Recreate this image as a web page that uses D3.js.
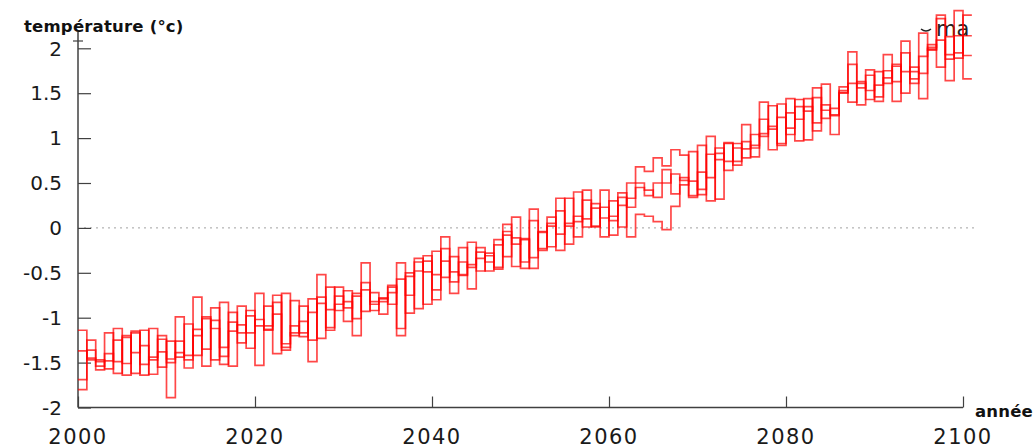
<!DOCTYPE html>
<html><head><meta charset="utf-8">
<script src="https://cdn.jsdelivr.net/npm/d3@7"></script>
<style>
html,body{margin:0;padding:0;background:#fff;}
svg{display:block;}
</style></head>
<body>
<svg id="c" width="1035" height="448"></svg>
<script>
const years = d3.range(2000, 2101);
const yTicks = [-2, -1.5, -1, -0.5, 0, 0.5, 1, 1.5, 2];
const xTicks = [2000, 2020, 2040, 2060, 2080, 2100];
const yTitle = "température (°c)";
const xTitle = "année";
const legendText = "ma";

const series1 = [-1.14,-1.47,-1.47,-1.57,-1.12,-1.64,-1.15,-1.64,-1.12,-1.55,
-1.26,-1.44,-1.07,-1.42,-0.99,-1.47,-0.83,-1.54,-0.87,-1.34,
-0.73,-1.14,-0.75,-1.36,-0.81,-1.21,-0.79,-1.23,-0.66,-0.92,
-0.70,-1.20,-0.39,-0.92,-0.78,-0.85,-0.39,-0.95,-0.34,-0.85,
-0.26,-0.55,-0.32,-0.53,-0.16,-0.48,-0.28,-0.46,0.04,-0.43,
-0.12,-0.45,-0.04,-0.21,0.33,-0.18,0.40,0.01,0.27,-0.10,
0.30,0.01,0.50,0.68,0.63,0.78,0.69,0.87,0.81,0.34,
0.92,0.30,0.89,0.64,0.94,0.78,1.04,1.02,1.36,0.92,
1.44,0.97,1.44,1.08,1.60,1.04,1.57,1.40,1.63,1.43,
1.74,1.61,1.82,1.50,1.79,1.44,2.04,1.79,2.13,1.89,2.37];

const series2 = [-1.37,-1.45,-1.49,-1.48,-1.25,-1.51,-1.17,-1.52,-1.44,-1.38,
-1.46,-1.39,-1.42,-1.20,-1.01,-1.12,-1.33,-1.15,-1.08,-1.17,
-1.02,-1.13,-0.83,-1.33,-1.09,-1.17,-0.94,-0.84,-0.91,-0.85,
-0.82,-1.01,-0.61,-0.85,-0.79,-0.72,-0.57,-0.75,-0.38,-0.49,
-0.52,-0.37,-0.49,-0.52,-0.41,-0.34,-0.31,-0.44,-0.04,-0.18,
-0.13,-0.33,-0.05,0.02,0.19,0.02,0.13,0.10,0.22,0.11,
0.13,0.25,0.33,0.45,0.42,0.34,0.65,0.38,0.56,0.36,
0.62,0.56,0.83,0.74,0.89,0.88,0.92,1.05,1.13,0.94,
1.28,1.21,1.35,1.17,1.37,1.25,1.53,1.61,1.61,1.53,
1.59,1.67,1.80,1.74,1.74,1.72,2.01,2.09,1.93,1.95,2.14];

const series3 = [-1.69,-1.36,-1.54,-1.40,-1.49,-1.22,-1.39,-1.31,-1.47,-1.24,
-1.50,-1.26,-1.47,-1.13,-1.35,-1.03,-1.43,-1.05,-1.17,-0.98,
-1.09,-1.09,-0.96,-1.29,-1.17,-1.04,-1.25,-0.77,-1.11,-0.76,
-0.89,-0.76,-0.69,-0.82,-0.82,-0.66,-1.12,-0.54,-0.48,-0.37,
-0.69,-0.23,-0.60,-0.38,-0.44,-0.27,-0.38,-0.19,-0.08,-0.11,
-0.38,0.08,-0.23,0.05,-0.07,0.05,0.07,0.31,0.02,0.23,
0.08,0.34,0.23,0.50,0.36,0.50,0.50,0.60,0.53,0.52,
0.43,0.82,0.76,0.94,0.74,0.96,0.89,1.21,1.10,1.23,
1.11,1.35,1.30,1.45,1.31,1.26,1.51,1.82,1.56,1.70,
1.46,1.75,1.63,1.95,1.66,1.91,1.99,2.33,1.88,2.14,1.92];

const series4 = [-1.80,-1.25,-1.58,-1.17,-1.62,-1.20,-1.62,-1.14,-1.63,-1.20,
-1.89,-0.99,-1.56,-0.77,-1.54,-0.89,-1.52,-0.94,-1.28,-0.92,
-1.53,-0.87,-1.40,-0.73,-1.20,-0.87,-1.49,-0.52,-1.14,-0.66,
-1.04,-0.73,-0.93,-0.72,-0.96,-0.64,-1.20,-0.50,-0.90,-0.31,
-0.80,-0.10,-0.73,-0.22,-0.68,-0.22,-0.48,-0.13,-0.32,0.12,
-0.45,0.21,-0.25,0.12,-0.25,0.33,-0.10,0.42,0.01,0.42,
-0.08,0.39,-0.10,0.15,0.13,0.07,-0.02,0.24,0.48,0.85,
0.37,1.02,0.32,0.95,0.70,1.15,0.79,1.40,0.87,1.38,
1.04,1.43,0.98,1.56,1.22,1.33,1.50,1.96,1.37,1.76,
1.41,1.93,1.41,2.08,1.61,2.17,1.98,2.37,1.64,2.42,1.66];

const allSeries = [series1, series2, series3, series4];

const svg = d3.select("#c");
const x = d3.scaleLinear().domain([2000, 2100]).range([78, 963]);
const y = d3.scaleLinear().domain([-2, 2]).range([407.5, 48.3]);
const axisColor = "#404040";
const font = "'DejaVu Sans', sans-serif";

// zero grid line
svg.append("line")
  .attr("x1", x(2000) + 6).attr("x2", x(2100) + 12)
  .attr("y1", y(0)).attr("y2", y(0))
  .attr("stroke", "#a0a0a0").attr("stroke-width", 1)
  .attr("stroke-dasharray", "2,4");

// legend (partially hidden)
svg.append("text").attr("x", 936).attr("y", 36)
  .attr("font-family", font).attr("font-size", 21).attr("fill", "#222")
  .text(legendText);
svg.append("path").attr("d", "M921,29 Q926,33 931,29")
  .attr("fill", "none").attr("stroke", "#222").attr("stroke-width", 1.5);

// y axis
const yAxis = d3.axisRight(y).tickValues(yTicks).tickSize(13).tickFormat("");
const gy = svg.append("g").attr("transform", `translate(${x(2000)},0)`).call(yAxis);
gy.select(".domain").remove();
gy.selectAll(".tick line").attr("stroke", axisColor).attr("stroke-width", 1.2);
svg.append("line").attr("x1", x(2000)).attr("x2", x(2000))
  .attr("y1", y(-2)).attr("y2", 32).attr("stroke", axisColor).attr("stroke-width", 1.5);
svg.append("line").attr("x1", x(2000) - 5).attr("x2", x(2000) + 5)
  .attr("y1", 41).attr("y2", 41).attr("stroke", axisColor).attr("stroke-width", 1.2);
svg.append("g").selectAll("text").data(yTicks).join("text")
  .attr("x", 62).attr("y", d => y(d))
  .attr("dy", "0.36em")
  .attr("text-anchor", "end")
  .attr("font-family", font).attr("font-size", 20).attr("fill", "#1a1a1a")
  .text(d => String(d));

// x axis
const xAxis = d3.axisTop(x).tickValues(xTicks).tickSize(11).tickFormat("");
const gx = svg.append("g").attr("transform", `translate(0,${y(-2)})`).call(xAxis);
gx.select(".domain").remove();
gx.selectAll(".tick line").attr("stroke", axisColor).attr("stroke-width", 1.2);
svg.append("line").attr("x1", x(2000)).attr("x2", x(2100))
  .attr("y1", y(-2)).attr("y2", y(-2)).attr("stroke", axisColor).attr("stroke-width", 1.5);
svg.append("g").selectAll("text").data(xTicks).join("text")
  .attr("x", d => x(d)).attr("y", 444)
  .attr("text-anchor", "middle")
  .attr("font-family", font).attr("font-size", 21).attr("fill", "#1a1a1a")
  .attr("letter-spacing", 1.5)
  .text(d => d);

// titles
svg.append("text").attr("x", 24).attr("y", 32)
  .attr("font-family", font).attr("font-weight", "bold").attr("font-size", 16.5)
  .attr("letter-spacing", 0.2)
  .attr("fill", "#111").text(yTitle);
svg.append("text").attr("x", 975).attr("y", 417)
  .attr("font-family", font).attr("font-weight", "bold").attr("font-size", 16.5)
  .attr("letter-spacing", 0.2)
  .attr("fill", "#111").text(xTitle);

// step lines
const line = d3.line()
  .x(d => x(d[0])).y(d => y(d[1]))
  .curve(d3.curveStepAfter);
allSeries.forEach(s => {
  const pts = years.map((yr, i) => [yr, s[i]]);
  pts.push([years[years.length - 1] + 1, s[s.length - 1]]);
  svg.append("path").datum(pts)
    .attr("d", line)
    .attr("fill", "none")
    .attr("stroke", "#ff0000")
    .attr("stroke-opacity", 0.72)
    .attr("stroke-width", 1.7);
});
</script>
</body></html>
